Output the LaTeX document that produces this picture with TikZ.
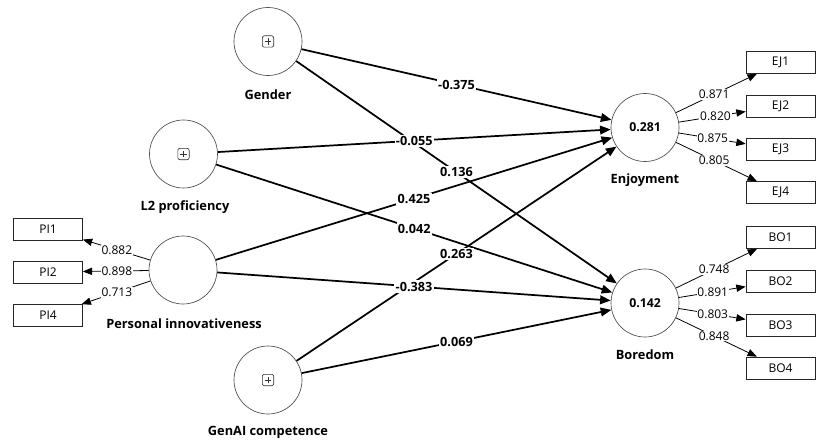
\documentclass[tikz,border=0pt]{standalone}
\usepackage{fontspec}
\setmainfont{Open Sans}
\usetikzlibrary{arrows.meta,calc}
\begin{document}
\begin{tikzpicture}[x=0.75pt,y=-0.75pt,
  latent/.style={circle,draw=black!70,line width=0.5pt,minimum size=51pt,inner sep=0pt,font=\bfseries\fontsize{9.2}{11}\selectfont},
  indicator/.style={rectangle,draw=black!85,line width=0.5pt,minimum width=51.75pt,minimum height=16.5pt,inner sep=0pt,font=\fontsize{9}{10}\selectfont},
  lvname/.style={font=\bfseries\fontsize{9.6}{11}\selectfont},
  pathc/.style={line width=1.3pt,-{Triangle[length=8pt,width=6.5pt]}},
  loadc/.style={line width=0.6pt,-{Triangle[length=7pt,width=5.5pt]}},
  coef/.style={fill=white,inner sep=1pt,font=\bfseries\fontsize{9.5}{11}\selectfont},
  loadlbl/.style={fill=white,inner sep=0.6pt,font=\fontsize{9}{10}\selectfont},
  plusicon/.style={draw=black!80,rounded corners=1.5pt,minimum size=8.5pt,inner sep=0pt,line width=0.5pt,
    path picture={\draw[line width=0.5pt] ([xshift=-2.6pt]path picture bounding box.center) -- ([xshift=2.6pt]path picture bounding box.center);
                  \draw[line width=0.5pt] ([yshift=-2.6pt]path picture bounding box.center) -- ([yshift=2.6pt]path picture bounding box.center);}}
]
\useasboundingbox (0,0) rectangle (816,442);

% latent variables
\node[latent] (gen) at (268,41.5) {};
\node[latent] (l2) at (183.5,154) {};
\node[latent] (pi) at (183,270) {};
\node[latent] (gai) at (268,380) {};
\node[latent] (enj) at (645,127.5) {0.281};
\node[latent] (bor) at (645,303) {0.142};

\node[plusicon] (genicon) at (gen) {};
\node[plusicon] (l2icon) at (l2) {};
\node[plusicon] (gaiicon) at (gai) {};

% names
\node[lvname] (genname) at (268,95) {Gender};
\node[lvname] (l2name) at (185,207) {L2 proficiency};
\node[lvname] (piname) at (184,324) {Personal innovativeness};
\node[lvname] (gainame) at (268,432) {GenAI competence};
\node[lvname] (enjname) at (645,180) {Enjoyment};
\node[lvname] (borname) at (645,355) {Boredom};

% indicators
\node[indicator] (pi1) at (48,229) {PI1};
\node[indicator] (pi2) at (48,272) {PI2};
\node[indicator] (pi4) at (48,315.5) {PI4};
\node[indicator] (ej1) at (780.5,62.5) {EJ1};
\node[indicator] (ej2) at (780.5,106) {EJ2};
\node[indicator] (ej3) at (780.5,149.5) {EJ3};
\node[indicator] (ej4) at (780.5,192.5) {EJ4};
\node[indicator] (bo1) at (780.5,237.5) {BO1};
\node[indicator] (bo2) at (780.5,281) {BO2};
\node[indicator] (bo3) at (780.5,325) {BO3};
\node[indicator] (bo4) at (780.5,368) {BO4};

% structural paths
\draw[pathc] (gen) -- (enj);
\draw[pathc] (gen) -- (bor);
\draw[pathc] (l2) -- (enj);
\draw[pathc] (l2) -- (bor);
\draw[pathc] (pi) -- (enj);
\draw[pathc] (pi) -- (bor);
\draw[pathc] (gai) -- (enj);
\draw[pathc] (gai) -- (bor);

% loadings
\foreach \i in {pi1,pi2,pi4} {\draw[loadc] (pi) -- (\i);}
\foreach \i in {ej1,ej2,ej3,ej4} {\draw[loadc] (enj) -- (\i);}
\foreach \i in {bo1,bo2,bo3,bo4} {\draw[loadc] (bor) -- (\i);}

% coefficient labels
\node[coef] (c1) at ($(gen)!0.5!(enj)$) {-0.375};
\node[coef] (c2) at ($(gen)!0.5!(bor)$) {0.136};
\node[coef] (c3) at ($(l2)!0.5!(enj)$) {-0.055};
\node[coef] (c4) at ($(l2)!0.5!(bor)$) {0.042};
\node[coef] (c5) at ($(pi)!0.5!(enj)$) {0.425};
\node[coef] (c6) at ($(pi)!0.5!(bor)$) {-0.383};
\node[coef] (c7) at ($(gai)!0.5!(enj)$) {0.263};
\node[coef] (c8) at ($(gai)!0.5!(bor)$) {0.069};

% loading labels
\node[loadlbl] (l1) at ($(pi)!0.49!(pi1)$) {0.882};
\node[loadlbl] (l2l) at ($(pi)!0.49!(pi2)$) {0.898};
\node[loadlbl] (l3) at ($(pi)!0.49!(pi4)$) {0.713};
\node[loadlbl] (l4) at ($(enj)!0.51!(ej1)$) {0.871};
\node[loadlbl] (l5) at ($(enj)!0.52!(ej2)$) {0.820};
\node[loadlbl] (l6) at ($(enj)!0.50!(ej3)$) {0.875};
\node[loadlbl] (l7) at ($(enj)!0.51!(ej4)$) {0.805};
\node[loadlbl] (l8) at ($(bor)!0.51!(bo1)$) {0.748};
\node[loadlbl] (l9) at ($(bor)!0.50!(bo2)$) {0.891};
\node[loadlbl] (l10) at ($(bor)!0.50!(bo3)$) {0.803};
\node[loadlbl] (l11) at ($(bor)!0.51!(bo4)$) {0.848};
\end{tikzpicture}
\end{document}
